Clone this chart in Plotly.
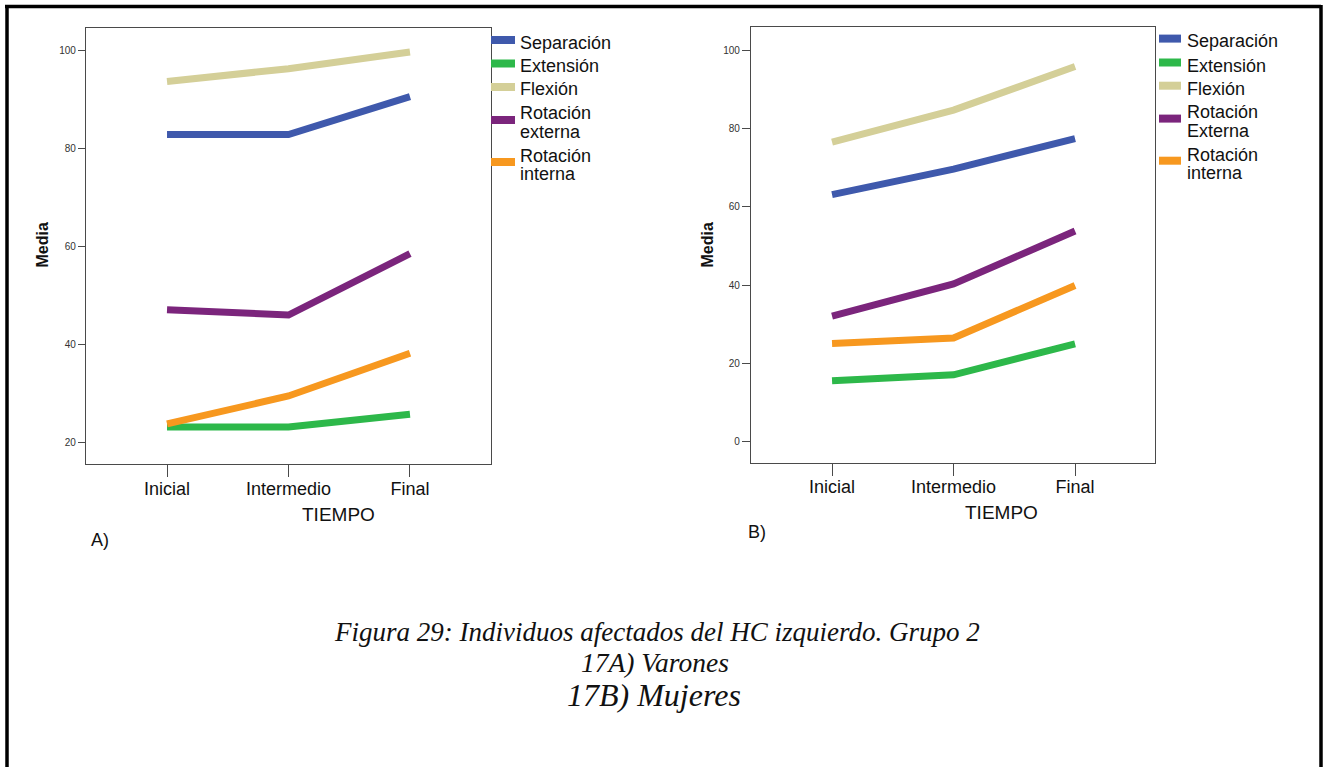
import plotly.graph_objects as go

W, H = 1326, 767

# ---------------- data ----------------
tiempo = ["Inicial", "Intermedio", "Final"]

series_A = ["Separación", "Extensión", "Flexión", "Rotación<br>externa", "Rotación<br>interna"]
series_B = ["Separación", "Extensión", "Flexión", "Rotación<br>Externa", "Rotación<br>interna"]
colors = ["#3F59AC", "#2DB84A", "#D4CF98", "#7B257C", "#F7981F"]

# A) Varones
separacion_A = [82.8, 82.8, 90.5]
extension_A = [23.2, 23.2, 25.8]
flexion_A = [93.6, 96.2, 99.6]
rot_ext_A = [47.1, 46.0, 58.5]
rot_int_A = [23.8, 29.5, 38.2]

# B) Mujeres
separacion_B = [63.1, 69.6, 77.4]
extension_B = [15.6, 17.1, 25.0]
flexion_B = [76.5, 84.7, 95.8]
rot_ext_B = [32.1, 40.3, 53.8]
rot_int_B = [25.1, 26.5, 39.9]

yticks_A = [20, 40, 60, 80, 100]
yticks_B = [0, 20, 40, 60, 80, 100]

caption_lines = [
    "Figura 29: Individuos afectados del HC izquierdo. Grupo 2",
    "17A) Varones",
    "17B) Mujeres",
]

values_A = [separacion_A, extension_A, flexion_A, rot_ext_A, rot_int_A]
values_B = [separacion_B, extension_B, flexion_B, rot_ext_B, rot_int_B]


def px(x):
    return x / W


def py(y):
    return 1 - y / H


fig = go.Figure()

for names, vals, xa, ya in [(series_A, values_A, "x", "y"), (series_B, values_B, "x2", "y2")]:
    for name, v, c in zip(names, vals, colors):
        fig.add_trace(go.Scatter(
            x=tiempo, y=v, mode="lines", name=name.replace("<br>", " "),
            line=dict(color=c, width=7), xaxis=xa, yaxis=ya,
            showlegend=False, hoverinfo="skip",
        ))

axis_common = dict(
    showline=True, mirror=True, linecolor="#4a4a4a", linewidth=1.3,
    showgrid=False, zeroline=False, ticks="outside", tickcolor="#4a4a4a",
)

fig.update_layout(
    width=W, height=H,
    margin=dict(l=0, r=0, t=0, b=0),
    paper_bgcolor="white", plot_bgcolor="white",
    showlegend=False,
    font=dict(family="Liberation Sans, Arial, sans-serif", color="#111111"),
    xaxis=dict(
        domain=[px(86), px(491)], anchor="y", type="category",
        categoryorder="array", categoryarray=tiempo,
        range=[-0.667, 2.667], ticklen=12, tickwidth=1.3, ticklabelstandoff=-4,
        tickfont=dict(size=18, color="#111111"), **axis_common,
    ),
    yaxis=dict(
        domain=[py(464), py(28)], anchor="x", range=[15.64, 104.5],
        tickvals=yticks_A, ticklen=7, tickwidth=1.3,
        tickfont=dict(size=10, color="#333333"), **axis_common,
    ),
    xaxis2=dict(
        domain=[px(751), px(1155)], anchor="y2", type="category",
        categoryorder="array", categoryarray=tiempo,
        range=[-0.667, 2.658], ticklen=12, tickwidth=1.3, ticklabelstandoff=-4,
        tickfont=dict(size=18, color="#111111"), **axis_common,
    ),
    yaxis2=dict(
        domain=[py(462.5), py(27)], anchor="x2", range=[-5.3, 105.9],
        tickvals=yticks_B, ticklen=8, tickwidth=1.3,
        tickfont=dict(size=10, color="#333333"), **axis_common,
    ),
)

ann = []
shapes = []

# axis titles and panel labels
for cx, tx, ty, lx, ly, lab in [(42, 338.5, 514, 100, 540, "A)"), (707, 1001.5, 512, 757, 532, "B)")]:
    ann.append(dict(text="<b>Media</b>", x=px(cx), y=py(245.5), xref="paper", yref="paper",
                    textangle=-90, showarrow=False, font=dict(size=16, color="#111111"),
                    xanchor="center", yanchor="middle"))
    ann.append(dict(text="TIEMPO", x=px(tx), y=py(ty), xref="paper", yref="paper",
                    showarrow=False, font=dict(size=19, color="#111111"),
                    xanchor="center", yanchor="middle"))
    ann.append(dict(text=lab, x=px(lx), y=py(ly), xref="paper", yref="paper",
                    showarrow=False, font=dict(size=18, color="#111111"),
                    xanchor="center", yanchor="middle"))

# legends (drawn manually)
legend_specs = [
    (series_A, 491, 515, 518, [40, 63.5, 87, 120, 162], [43, 66, 89, (113, 132), (156, 174)]),
    (series_B, 1159, 1181, 1185, [38.6, 62.5, 85.7, 118.6, 160.7], [41.5, 66, 88.6, (112, 131), (155, 173)]),
]
for names, x0, x1, tx, sw_y, txt_y in legend_specs:
    for name, c, sy, ty in zip(names, colors, sw_y, txt_y):
        shapes.append(dict(type="line", xref="paper", yref="paper",
                           x0=px(x0), x1=px(x1), y0=py(sy), y1=py(sy),
                           line=dict(color=c, width=8)))
        parts = name.split("<br>")
        ys = ty if isinstance(ty, tuple) else (ty,)
        for part, yy in zip(parts, ys):
            ann.append(dict(text=part, x=px(tx), y=py(yy), xref="paper", yref="paper",
                            showarrow=False, font=dict(size=18, color="#111111"),
                            xanchor="left", yanchor="middle"))

# caption
cap_specs = [(656.5, 632, 27), (655, 662, 27.5), (654, 695, 32)]
for line, (cx, cy, fs) in zip(caption_lines, cap_specs):
    ann.append(dict(text="<i>" + line + "</i>", x=px(cx), y=py(cy), xref="paper", yref="paper",
                    showarrow=False,
                    font=dict(size=fs, color="#111111", family="Liberation Serif, Times New Roman, serif"),
                    xanchor="center", yanchor="middle"))

# outer black frame (top, left, right)
for (x0, y0, x1, y1) in [(5, 6.5, 1321, 6.5), (7, 5, 7, 767), (1321, 5, 1321, 767)]:
    shapes.append(dict(type="line", xref="paper", yref="paper",
                       x0=px(x0), y0=py(y0), x1=px(x1), y1=py(y1),
                       line=dict(color="black", width=3.5)))

fig.update_layout(annotations=ann, shapes=shapes)

fig.write_html("out.html")
